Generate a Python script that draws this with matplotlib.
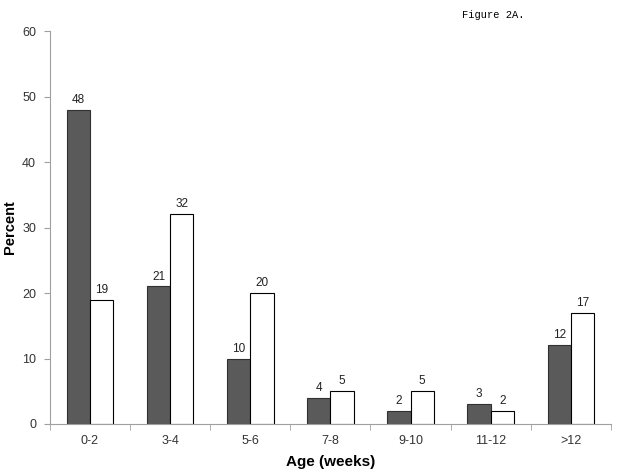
import matplotlib.pyplot as plt
import numpy as np

# --- Dados ---
categories = ['0-2', '3-4', '5-6', '7-8', '9-10', '11-12', '>12']
series_dark = [48, 21, 10, 4, 2, 3, 12]
series_white = [19, 32, 20, 5, 5, 2, 17]

plt.rcParams['font.family'] = ['Liberation Sans', 'DejaVu Sans']

fig = plt.figure(figsize=(6.24, 4.74), dpi=100)
ax = fig.add_axes([0.080, 0.1055, 0.899, 0.829])

x = np.arange(len(categories))
w = 0.29
b1 = ax.bar(x - w / 2, series_dark, width=w, color='#5a5a5a', edgecolor='#303030', linewidth=0.8)
b2 = ax.bar(x + w / 2, series_white, width=w, color='white', edgecolor='black', linewidth=0.8)

for bars in (b1, b2):
    for rect in bars:
        h = rect.get_height()
        ax.text(rect.get_x() + rect.get_width() / 2, h + 0.6, f'{h:g}',
                ha='center', va='bottom', fontsize=8.5, color='#222222')

ax.set_xlim(-0.5, len(categories) - 0.5)
ax.set_ylim(0, 60)
ax.set_yticks(range(0, 61, 10))
ax.set_xticks(x)
ax.set_xticklabels(categories)
ax.set_xticks(np.arange(-0.5, len(categories)), minor=True)
ax.tick_params(axis='x', which='major', length=0, pad=8, labelsize=9, labelcolor='#333333')
ax.tick_params(axis='x', which='minor', length=4, color='#a0a0a0')
ax.tick_params(axis='y', length=4, color='#a0a0a0', labelsize=9, pad=6, labelcolor='#333333')

for s in ['top', 'right']:
    ax.spines[s].set_visible(False)
for s in ['left', 'bottom']:
    ax.spines[s].set_color('#a0a0a0')

ax.set_ylabel('Percent', fontsize=10.5, fontweight='bold')
ax.yaxis.set_label_coords(-0.059, 0.5)
ax.set_xlabel('Age (weeks)', fontsize=11, fontweight='bold')
ax.xaxis.set_label_coords(0.5, -0.079)

fig.text(0.74, 0.968, 'Figure 2A.', family='Liberation Mono', fontsize=7.5, va='center')

fig.savefig('out.png', dpi=100)
